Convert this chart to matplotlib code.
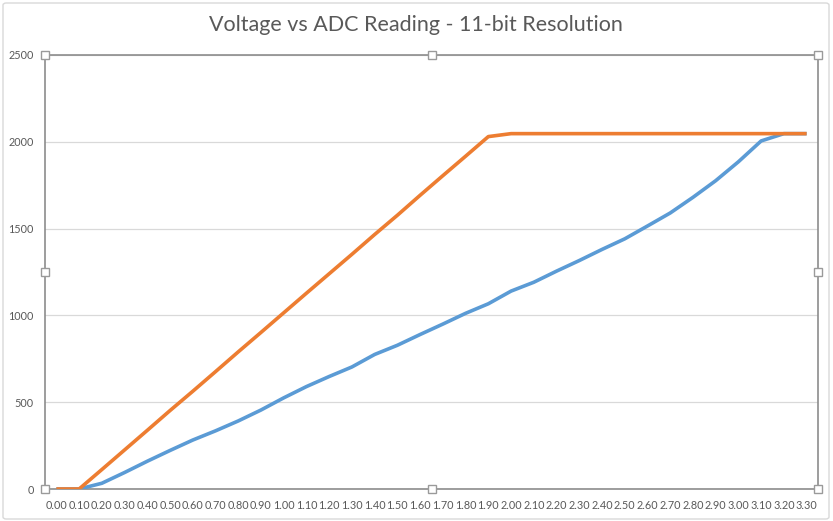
import matplotlib
matplotlib.use("Agg")
import matplotlib.pyplot as plt
from matplotlib.patches import FancyBboxPatch

voltages = ["%.2f" % (i / 10) for i in range(34)]
blue_values = [0, 0, 33, 95, 160, 222, 282, 335, 392, 455, 525, 590, 648, 703,
               775, 828, 890, 950, 1012, 1067, 1140, 1191, 1255, 1316, 1380,
               1441, 1515, 1590, 1680, 1776, 1885, 2005, 2047, 2047]
orange_values = [0, 0, 112, 225, 338, 452, 563, 676, 790, 902, 1015, 1128, 1240,
                 1352, 1466, 1577, 1692, 1805, 1917, 2030, 2047, 2047, 2047,
                 2047, 2047, 2047, 2047, 2047, 2047, 2047, 2047, 2047, 2047, 2047]
y_ticks = [0, 500, 1000, 1500, 2000, 2500]
title = "Voltage vs ADC Reading - 11-bit Resolution"

plt.rcParams['font.family'] = ['Lato', 'DejaVu Sans']

fig = plt.figure(figsize=(8.33, 5.21), dpi=100)
W, H = 833, 521
left, right, top, bottom = 45, 818, 55, 489
ax = fig.add_axes([left / W, 1 - bottom / H, (right - left) / W, (bottom - top) / H])

x = list(range(len(voltages)))
ax.plot(x, blue_values, color="#5b9bd5", lw=2.6, solid_joinstyle="round", solid_capstyle="butt", zorder=3)
ax.plot(x, orange_values, color="#ed7d31", lw=2.6, solid_joinstyle="round", solid_capstyle="butt", zorder=4)

ax.set_xlim(-0.5, len(voltages) - 0.5)
ax.set_ylim(0, 2500)
ax.set_yticks(y_ticks)
ax.set_yticklabels([str(v) for v in y_ticks])
ax.set_xticks(x)
ax.set_xticklabels(voltages)
ax.tick_params(axis='both', length=0, colors="#595959", labelsize=7.8)
ax.tick_params(axis='x', pad=8)
ax.tick_params(axis='y', pad=8)
ax.grid(axis='y', color="#d9d9d9", lw=0.9)
ax.set_axisbelow(True)
for s in ax.spines.values():
    s.set_color("#8c8c8c")
    s.set_linewidth(1.2)

# selection handles
for hx, hy in [(0, 0), (0.5, 0), (1, 0), (0, 0.5), (1, 0.5), (0, 1), (0.5, 1), (1, 1)]:
    ax.plot([hx], [hy], marker='s', ms=5.5, mfc='white', mec='#9a9a9a', mew=1,
            transform=ax.transAxes, clip_on=False, zorder=10)

# chart border
fig.patches.append(FancyBboxPatch((3 / W, 2 / H), (829 - 3) / W, (518 - 2) / H,
                                  boxstyle="round,pad=0,rounding_size=0.004",
                                  transform=fig.transFigure, fc='none', ec='#d9d9d9', lw=1))

fig.text(416 / W, 1 - 25 / H, title, ha='center', va='center', fontsize=15.5, color="#595959")

fig.savefig("out.png", dpi=100)
